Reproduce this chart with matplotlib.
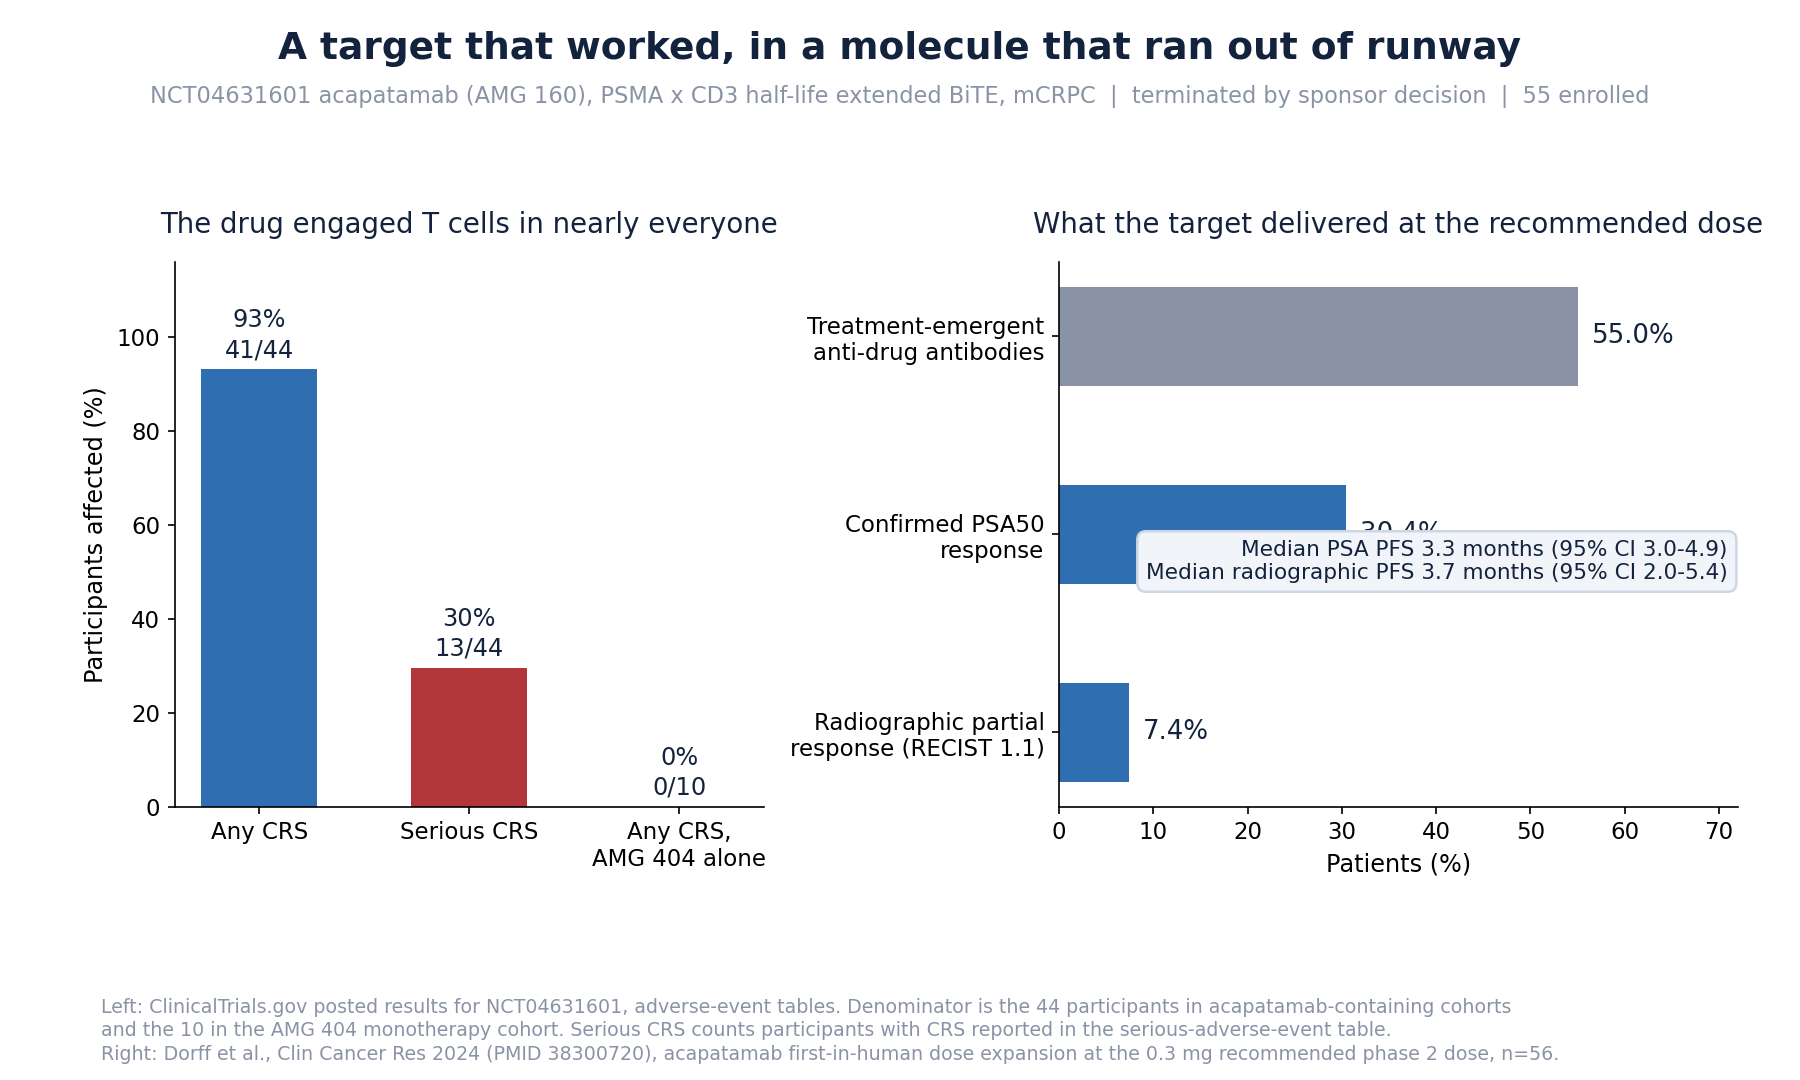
import matplotlib
matplotlib.use("Agg")
import matplotlib.pyplot as plt

# left panel: CRS from ClinicalTrials.gov AE tables
crs_labels = ["Any CRS", "Serious CRS", "Any CRS,\nAMG 404 alone"]
crs_counts = [41, 13, 0]
crs_totals = [44, 44, 10]
crs_colors = ["#2f6eb1", "#b3363b", "#2f6eb1"]

# right panel: outcomes at recommended dose (Dorff 2024)
out_labels = ["Radiographic partial\nresponse (RECIST 1.1)",
              "Confirmed PSA50\nresponse",
              "Treatment-emergent\nanti-drug antibodies"]
out_values = [7.4, 30.4, 55.0]
out_colors = ["#2f6eb1", "#2f6eb1", "#8a93a6"]

navy = "#14233d"
grey = "#8a93a6"

fig = plt.figure(figsize=(12, 7.2), dpi=150)

fig.text(0.5, 0.955, "A target that worked, in a molecule that ran out of runway",
         ha="center", va="center", fontsize=18, fontweight="bold", color=navy)
fig.text(0.5, 0.911, "NCT04631601 acapatamab (AMG 160), PSMA x CD3 half-life extended BiTE, mCRPC  |  "
         "terminated by sponsor decision  |  55 enrolled",
         ha="center", va="center", fontsize=10.8, color=grey)

ax1 = fig.add_axes([0.097, 0.2532, 0.3274, 0.5042])
ax2 = fig.add_axes([0.5884, 0.2532, 0.3771, 0.5042])

pct = [100 * c / t for c, t in zip(crs_counts, crs_totals)]
x = range(len(crs_labels))
ax1.bar(x, pct, width=0.55, color=crs_colors)
for i, p in enumerate(pct):
    ax1.text(i, p + 1.5, f"{p:.0f}%\n{crs_counts[i]}/{crs_totals[i]}",
             ha="center", va="bottom", fontsize=11.5, color=navy, linespacing=1.3)
ax1.set_xticks(list(x))
ax1.set_xticklabels(crs_labels, fontsize=11)
ax1.set_ylim(0, 116)
ax1.set_ylabel("Participants affected (%)", fontsize=11.5)
ax1.tick_params(axis="y", labelsize=11)
ax1.set_title("The drug engaged T cells in nearly everyone", fontsize=13.25,
              color=navy, pad=14)

y = range(len(out_labels))
ax2.barh(y, out_values, height=0.5, color=out_colors)
for i, v in enumerate(out_values):
    ax2.text(v + 1.5, i, f"{v:.1f}%", ha="left", va="center", fontsize=12.5, color=navy)
ax2.set_yticks(list(y))
ax2.set_yticklabels(out_labels, fontsize=11)
ax2.set_xlim(0, 72)
ax2.set_xlabel("Patients (%)", fontsize=11.5)
ax2.tick_params(axis="x", labelsize=11)
ax2.set_title("What the target delivered at the recommended dose", fontsize=13.25,
              color=navy, pad=14)
ax2.text(0.985, 0.45, "Median PSA PFS 3.3 months (95% CI 3.0-4.9)\n"
         "Median radiographic PFS 3.7 months (95% CI 2.0-5.4)",
         transform=ax2.transAxes, ha="right", va="center", fontsize=10.4, color=navy,
         bbox=dict(boxstyle="round,pad=0.4", facecolor="#f1f5fa", edgecolor="#cdd6e3", lw=1.2))

for ax in (ax1, ax2):
    ax.spines["top"].set_visible(False)
    ax.spines["right"].set_visible(False)

fig.text(0.056, 0.015,
         "Left: ClinicalTrials.gov posted results for NCT04631601, adverse-event tables. Denominator is the 44 participants in acapatamab-containing cohorts\n"
         "and the 10 in the AMG 404 monotherapy cohort. Serious CRS counts participants with CRS reported in the serious-adverse-event table.\n"
         "Right: Dorff et al., Clin Cancer Res 2024 (PMID 38300720), acapatamab first-in-human dose expansion at the 0.3 mg recommended phase 2 dose, n=56.",
         ha="left", va="bottom", fontsize=9.1, color=grey, linespacing=1.3)

fig.savefig("out.png", dpi=150)
